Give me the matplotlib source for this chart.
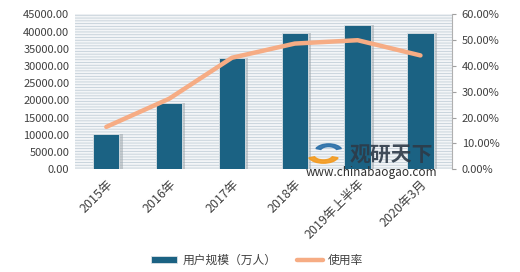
import numpy as np
import matplotlib
matplotlib.use("Agg")
import matplotlib.pyplot as plt
from matplotlib.patches import Rectangle, Wedge

plt.rcParams['font.family'] = ['Noto Sans CJK SC', 'DejaVu Sans']
plt.rcParams['hatch.linewidth'] = 0.6

categories = ['2015年', '2016年', '2017年', '2018年', '2019年上半年', '2020年3月']
users = [10300, 19300, 32200, 39700, 41800, 39700]     # 用户规模（万人）
usage_rate = [16.4, 27.3, 43.2, 48.7, 50.0, 44.1]      # 使用率 %
left_ticks = np.arange(0, 45001, 5000)
right_ticks = np.arange(0, 61, 10)

BAR_COLOR = '#1b6283'
LINE_COLOR = '#f6ac84'
TEXT_COLOR = '#404040'

fig = plt.figure(figsize=(5.2, 2.72), dpi=100)
ax = fig.add_axes([0.144, 0.378, 0.725, 0.569])
ax2 = ax.twinx()

x = np.arange(len(categories))

# striped background
ax.set_facecolor('#f3f5f7')
ax.add_patch(Rectangle((0, 0), 1, 1, transform=ax.transAxes, facecolor='none',
                       edgecolor='#c3cfd8', hatch='------', linewidth=0, zorder=0))

# shadow then bars
ax.bar(x + 0.04, users, width=0.44, color='#9aa3a8', alpha=0.5, zorder=1)
ax.bar(x, users, width=0.42, color=BAR_COLOR, edgecolor='#dde3e7', linewidth=0.6,
       zorder=2, label='用户规模（万人）')

ax.set_xlim(-0.5, len(categories) - 0.5)
ax.set_ylim(0, 45000)
ax.set_yticks(left_ticks)
ax.set_yticklabels(['%.2f' % v for v in left_ticks])
ax.set_xticks(x)
ax.set_xticklabels(categories, rotation=45, ha='right', va='top', rotation_mode='anchor')
ax.tick_params(axis='both', length=0, labelsize=8, colors=TEXT_COLOR, pad=4)
ax.tick_params(axis='x', pad=6, labelsize=9)
for s in ax.spines.values():
    s.set_visible(False)

ax2.plot(x, usage_rate, color=LINE_COLOR, linewidth=3.2, solid_capstyle='round',
         zorder=3, label='使用率')
ax2.set_ylim(0, 60)
ax2.set_yticks(right_ticks)
ax2.set_yticklabels(['%.2f%%' % v for v in right_ticks])
ax2.tick_params(axis='y', length=3, color='#a0a0a0', labelsize=8, colors=TEXT_COLOR, pad=4)
for name, s in ax2.spines.items():
    s.set_visible(name == 'right')
ax2.spines['right'].set_color('#b0b0b0')
ax2.spines['right'].set_linewidth(0.8)

# watermark
fig.patches.append(Wedge((0.622, 0.43), 0.03, 200, 340, width=0.012, color='#f39a1e',
                         transform=fig.transFigure, figure=fig, alpha=0.9))
fig.patches.append(Wedge((0.632, 0.445), 0.026, 20, 160, width=0.01, color='#2a6fa8',
                         transform=fig.transFigure, figure=fig, alpha=0.9))
fig.text(0.752, 0.43, '观研天下', fontsize=15, fontweight='bold', color='#2d3a48',
         ha='center', va='center', alpha=0.9)
fig.text(0.715, 0.366, 'www.chinabaogao.com', fontsize=8.5, color='#303030',
         ha='center', va='center')

h1, l1 = ax.get_legend_handles_labels()
h2, l2 = ax2.get_legend_handles_labels()
fig.legend(h1 + h2, l1 + l2, loc='center', bbox_to_anchor=(0.495, 0.044), ncol=2,
           frameon=False, fontsize=8.5, handlelength=2.2, handleheight=0.5,
           handletextpad=0.4, columnspacing=1.8, labelcolor=TEXT_COLOR)

fig.savefig('out.png', dpi=100, facecolor='white')
